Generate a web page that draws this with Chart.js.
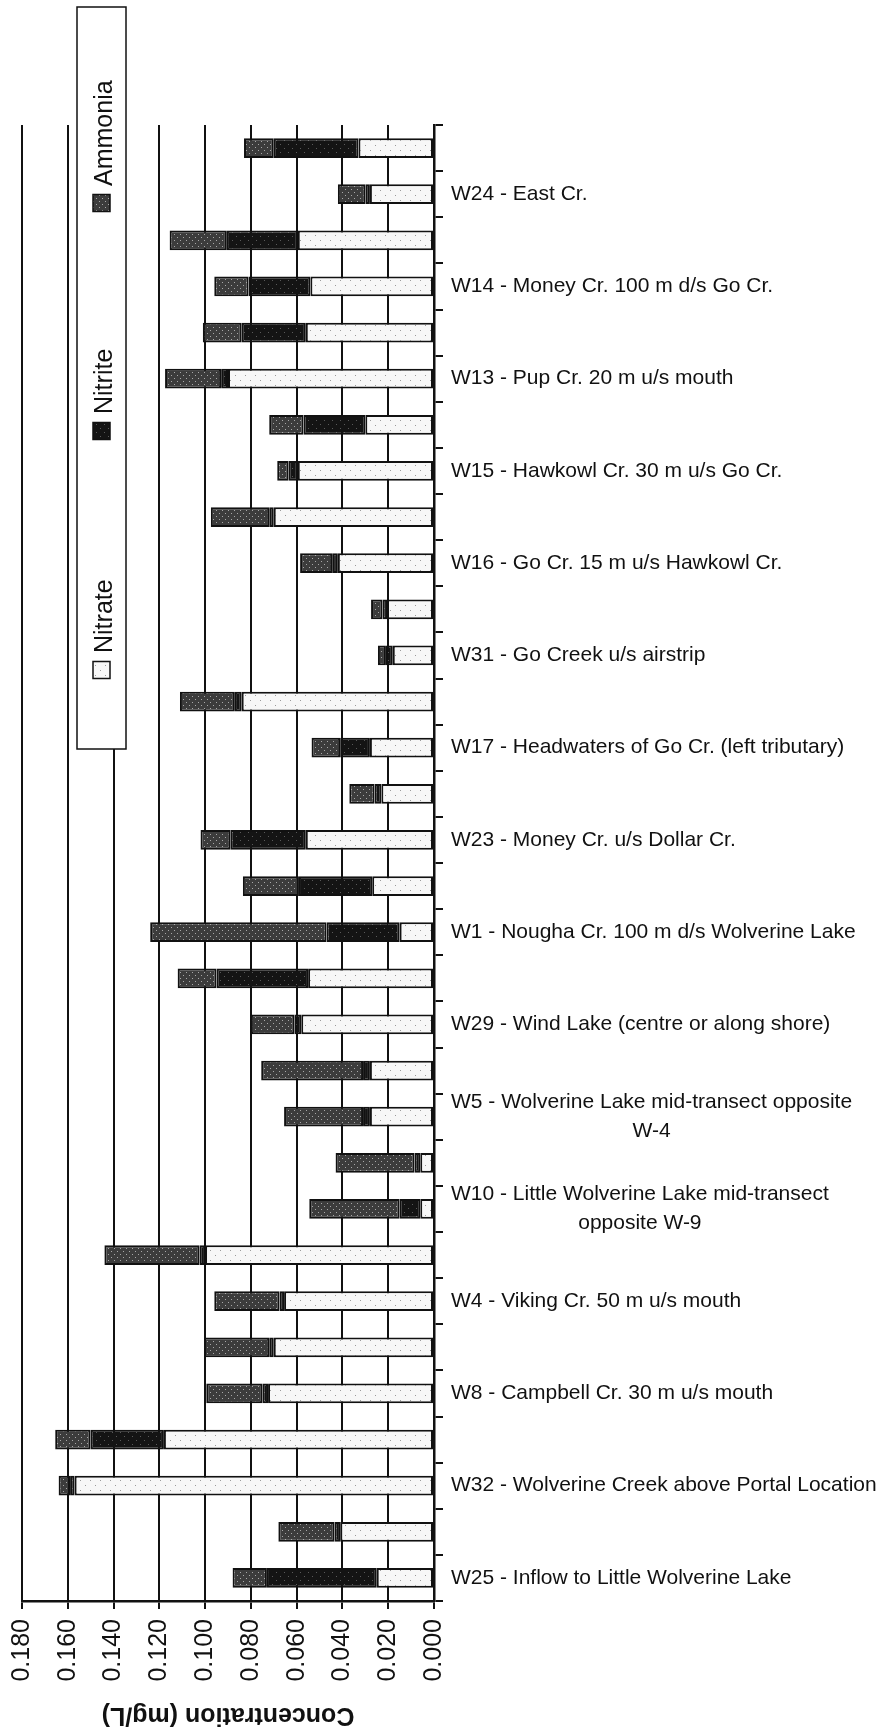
<!DOCTYPE html>
<html>
<head>
<meta charset="utf-8">
<script src="https://cdn.jsdelivr.net/npm/chart.js@4"></script>
<style>
  html, body { margin: 0; padding: 0; background: #fff; }
  canvas { display: block; }
</style>
</head>
<body>
<canvas id="nutrientChart" width="886" height="1730"></canvas>
<script>
// two sampling bars per site, site name shown beside the second one
const siteLabels = [
  '', 'W24 - East Cr.',
  '', 'W14 - Money Cr. 100 m d/s Go Cr.',
  '', 'W13 - Pup Cr. 20 m u/s mouth',
  '', 'W15 - Hawkowl Cr. 30 m u/s Go Cr.',
  '', 'W16 - Go Cr. 15 m u/s Hawkowl Cr.',
  '', 'W31 - Go Creek u/s airstrip',
  '', 'W17 - Headwaters of Go Cr. (left tributary)',
  '', 'W23 - Money Cr. u/s Dollar Cr.',
  '', 'W1 - Nougha Cr. 100 m d/s Wolverine Lake',
  '', 'W29 - Wind Lake (centre or along shore)',
  '', ['W5 - Wolverine Lake mid-transect opposite', 'W-4'],
  '', ['W10 - Little Wolverine Lake mid-transect', 'opposite W-9'],
  '', 'W4 - Viking Cr. 50 m u/s mouth',
  '', 'W8 - Campbell Cr. 30 m u/s mouth',
  '', 'W32 - Wolverine Creek above Portal Location',
  '', 'W25 - Inflow to Little Wolverine Lake'
];

// mg/L
const nitrate = [
  0.033, 0.028, 0.0595, 0.054, 0.056, 0.090, 0.030, 0.0595,
  0.070, 0.042, 0.0205, 0.018, 0.084, 0.028, 0.023, 0.056,
  0.027, 0.015, 0.055, 0.058, 0.028, 0.028, 0.006, 0.006,
  0.100, 0.0655, 0.070, 0.0725, 0.118, 0.157, 0.041, 0.025
];
const nitrite = [
  0.037, 0.002, 0.031, 0.027, 0.028, 0.003, 0.027, 0.004,
  0.002, 0.0025, 0.002, 0.003, 0.003, 0.013, 0.003, 0.033,
  0.032, 0.032, 0.040, 0.003, 0.003, 0.003, 0.0025, 0.009,
  0.0025, 0.002, 0.002, 0.0025, 0.032, 0.002, 0.0025, 0.048
];
const ammonia = [
  0.013, 0.012, 0.025, 0.015, 0.017, 0.0245, 0.015, 0.005,
  0.0255, 0.014, 0.005, 0.0035, 0.024, 0.0125, 0.011, 0.013,
  0.0245, 0.077, 0.017, 0.019, 0.0445, 0.0345, 0.0345, 0.0395,
  0.0415, 0.0285, 0.0285, 0.0245, 0.0155, 0.005, 0.0245, 0.015
];

const xTicks = [0, 0.02, 0.04, 0.06, 0.08, 0.10, 0.12, 0.14, 0.16, 0.18];

const FONT = "'Liberation Sans', Arial, Helvetica, sans-serif";
Chart.defaults.font.family = FONT;
Chart.defaults.color = '#111';

// speckled fills, like the printed hatching
const speckle = (bg, fg, step) => {
  const c = document.createElement('canvas');
  c.width = c.height = step * 2;
  const g = c.getContext('2d');
  g.fillStyle = bg;
  g.fillRect(0, 0, step * 2, step * 2);
  g.fillStyle = fg;
  g.fillRect(0, 0, 1, 1);
  g.fillRect(step, step, 1, 1);
  return g.createPattern(c, 'repeat');
};

const nitrateFill = speckle('#f7f7f7', '#9a9a9a', 5);
const nitriteFill = speckle('#141414', '#5a5a5a', 4);
const ammoniaFill = speckle('#3c3c3c', '#a8a8a8', 3);

const barStyle = {
  borderColor: '#111',
  borderWidth: 2,
  borderSkipped: false,
  barPercentage: 0.43,
  categoryPercentage: 1.0
};

// site names drawn beside the y axis, second line centred under the first
const siteNamePlugin = {
  id: 'siteNames',
  afterDraw(chart) {
    const { ctx, scales } = chart;
    const y = scales.y;
    const x0 = y.left + 17;
    ctx.save();
    ctx.font = '21px ' + FONT;
    ctx.fillStyle = '#111';
    ctx.textBaseline = 'middle';
    siteLabels.forEach((lab, i) => {
      if (!lab) return;
      const cy = y.getPixelForValue(i);
      if (Array.isArray(lab)) {
        const w0 = ctx.measureText(lab[0]).width;
        ctx.textAlign = 'left';
        ctx.fillText(lab[0], x0, cy - 14.5);
        ctx.textAlign = 'center';
        ctx.fillText(lab[1], x0 + w0 / 2, cy + 14.5);
      } else {
        ctx.textAlign = 'left';
        ctx.fillText(lab, x0, cy);
      }
    });
    ctx.restore();
  }
};

// upside-down axis title under the tick labels
const axisTitlePlugin = {
  id: 'axisTitle',
  afterDraw(chart) {
    const { ctx, chartArea } = chart;
    ctx.save();
    ctx.translate((chartArea.left + chartArea.right) / 2, 1715);
    ctx.rotate(Math.PI);
    ctx.font = 'bold 25px ' + FONT;
    ctx.fillStyle = '#111';
    ctx.textAlign = 'center';
    ctx.textBaseline = 'middle';
    ctx.fillText('Concentration (mg/L)', 0, 0);
    ctx.restore();
  }
};

// boxed legend running up the left edge, text turned sideways
const sideLegendPlugin = {
  id: 'sideLegend',
  afterDraw(chart) {
    const { ctx } = chart;
    const box = { x: 77, y: 7, w: 49, h: 742 };
    const items = [
      { ds: 0, cy: 670 },
      { ds: 1, cy: 431 },
      { ds: 2, cy: 203 }
    ];
    ctx.save();
    ctx.fillStyle = '#fff';
    ctx.fillRect(box.x, box.y, box.w, box.h);
    ctx.strokeStyle = '#111';
    ctx.lineWidth = 1.5;
    ctx.strokeRect(box.x, box.y, box.w, box.h);
    items.forEach(it => {
      const ds = chart.data.datasets[it.ds];
      ctx.fillStyle = ds.backgroundColor;
      ctx.fillRect(93, it.cy - 8.5, 17, 17);
      ctx.lineWidth = 1.5;
      ctx.strokeRect(93, it.cy - 8.5, 17, 17);
      ctx.save();
      ctx.translate(112, it.cy - 17);
      ctx.rotate(-Math.PI / 2);
      ctx.font = '25px ' + FONT;
      ctx.fillStyle = '#111';
      ctx.textAlign = 'left';
      ctx.textBaseline = 'alphabetic';
      ctx.fillText(ds.label, 0, 0);
      ctx.restore();
    });
    ctx.restore();
  }
};

new Chart(document.getElementById('nutrientChart'), {
  type: 'bar',
  data: {
    labels: siteLabels,
    datasets: [
      { label: 'Nitrate', data: nitrate, backgroundColor: nitrateFill, ...barStyle },
      { label: 'Nitrite', data: nitrite, backgroundColor: nitriteFill, ...barStyle },
      { label: 'Ammonia', data: ammonia, backgroundColor: ammoniaFill, ...barStyle }
    ]
  },
  options: {
    indexAxis: 'y',
    responsive: false,
    animation: false,
    layout: { padding: { top: 125, left: 22, right: 0, bottom: 0 } },
    plugins: {
      legend: { display: false },
      tooltip: { enabled: false }
    },
    scales: {
      x: {
        type: 'linear',
        position: 'bottom',
        stacked: true,
        reverse: true,
        min: 0,
        max: 0.18,
        afterBuildTicks: scale => {
          scale.ticks = xTicks.map(v => ({ value: v }));
        },
        afterFit: scale => { scale.height = 129; },
        grid: {
          color: '#111',
          lineWidth: 2,
          tickLength: 8,
          drawTicks: true
        },
        border: { display: true, color: '#111', width: 2.5 },
        ticks: {
          font: { size: 25 },
          color: '#111',
          minRotation: 90,
          maxRotation: 90,
          padding: 10,
          callback: v => Number(v).toFixed(3)
        }
      },
      y: {
        position: 'right',
        stacked: true,
        afterFit: scale => { scale.width = 452; },
        grid: {
          drawOnChartArea: false,
          offset: true,
          color: '#111',
          lineWidth: 2,
          tickLength: 9
        },
        border: { display: true, color: '#111', width: 2.5 },
        ticks: { display: false, autoSkip: false }
      }
    }
  },
  plugins: [siteNamePlugin, axisTitlePlugin, sideLegendPlugin]
});
</script>
</body>
</html>
